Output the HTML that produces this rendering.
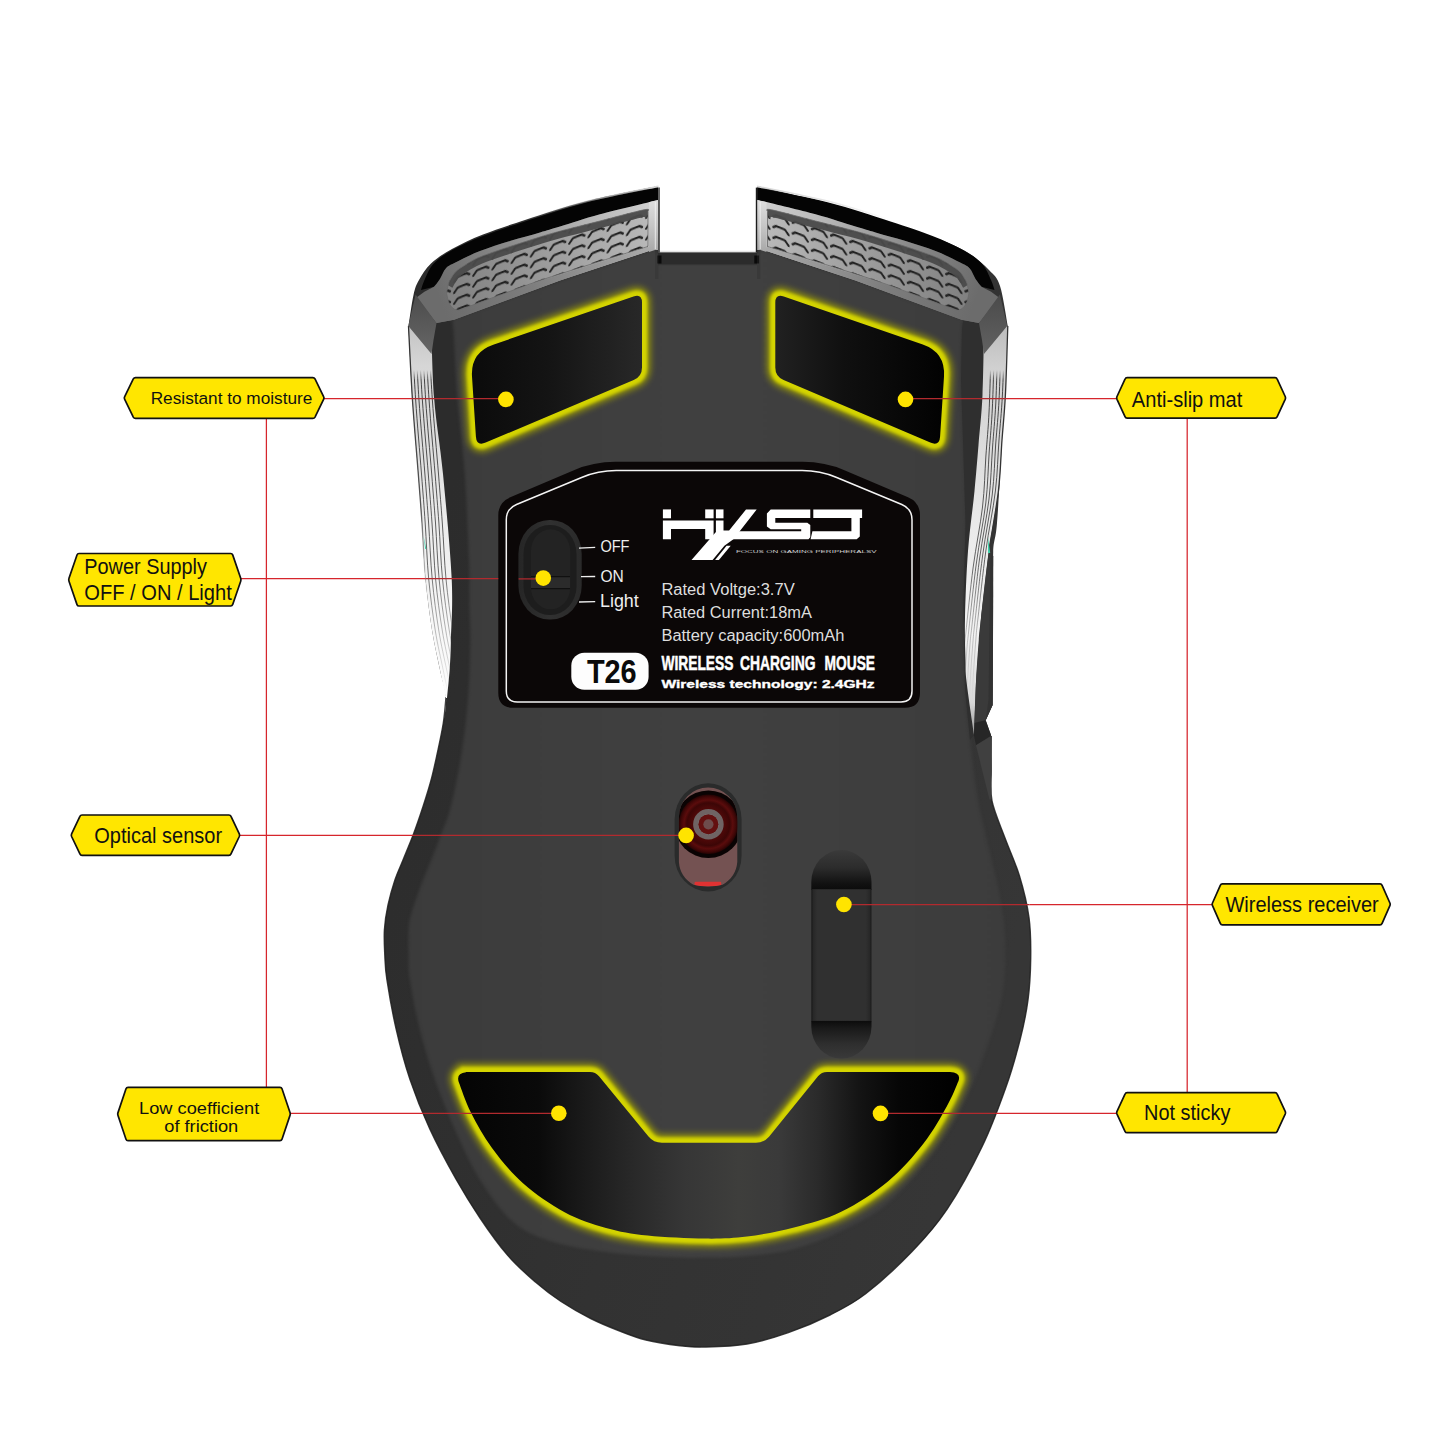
<!DOCTYPE html>
<html><head><meta charset="utf-8"><title>Mouse bottom features</title>
<style>
html,body{margin:0;padding:0;background:#fff;}
body{width:1445px;height:1445px;overflow:hidden;}
svg{display:block;}
text{font-family:"Liberation Sans",sans-serif;}
</style></head><body>
<svg width="1445" height="1445" viewBox="0 0 1445 1445">
<rect width="1445" height="1445" fill="#fff"/>
<defs>
<linearGradient id="gBody" x1="0" y1="0" x2="1" y2="0"><stop offset="0" stop-color="#3b3b3b"/><stop offset="0.5" stop-color="#404040"/><stop offset="1" stop-color="#3c3c3c"/></linearGradient>
<linearGradient id="gSil" gradientUnits="userSpaceOnUse" x1="384" y1="700" x2="1031" y2="900"><stop offset="0" stop-color="#2c2c2c"/><stop offset="0.3" stop-color="#2f2f2f"/><stop offset="0.55" stop-color="#323232"/><stop offset="0.8" stop-color="#343434"/><stop offset="1" stop-color="#363636"/></linearGradient>
<filter id="glow" x="-20%" y="-30%" width="140%" height="160%"><feGaussianBlur stdDeviation="3.2"/></filter>
<filter id="glow2" x="-20%" y="-30%" width="140%" height="160%"><feGaussianBlur stdDeviation="1.5"/></filter>
<filter id="soft" x="-5%" y="-5%" width="110%" height="110%" color-interpolation-filters="sRGB"><feGaussianBlur stdDeviation="1.4"/></filter>
<filter id="soft3" x="-20%" y="-20%" width="140%" height="140%"><feGaussianBlur stdDeviation="3"/></filter>
<linearGradient id="gRimL" gradientUnits="userSpaceOnUse" x1="440" y1="300" x2="658" y2="225"><stop offset="0" stop-color="#6c6c6c"/><stop offset="0.35" stop-color="#8a8a8a"/><stop offset="0.7" stop-color="#b4b4b4"/><stop offset="1" stop-color="#cfcfcf"/></linearGradient>
<linearGradient id="gGrL" gradientUnits="userSpaceOnUse" x1="440" y1="300" x2="658" y2="225"><stop offset="0" stop-color="#7e7e7e"/><stop offset="0.4" stop-color="#969696"/><stop offset="1" stop-color="#bcbcbc"/></linearGradient>
<linearGradient id="gLowL" gradientUnits="userSpaceOnUse" x1="440" y1="300" x2="658" y2="225"><stop offset="0" stop-color="#6c6c6c"/><stop offset="0.4" stop-color="#7e7e7e"/><stop offset="1" stop-color="#b0b0b0"/></linearGradient>
<linearGradient id="gHlL" gradientUnits="userSpaceOnUse" x1="525" y1="0" x2="658" y2="0"><stop offset="0" stop-color="#bbb" stop-opacity="0"/><stop offset="1" stop-color="#d8d8d8" stop-opacity="1"/></linearGradient>
<linearGradient id="gRimR" gradientUnits="userSpaceOnUse" x1="975.5" y1="300" x2="757.5" y2="225"><stop offset="0" stop-color="#6c6c6c"/><stop offset="0.35" stop-color="#8a8a8a"/><stop offset="0.7" stop-color="#b4b4b4"/><stop offset="1" stop-color="#cfcfcf"/></linearGradient>
<linearGradient id="gGrR" gradientUnits="userSpaceOnUse" x1="975.5" y1="300" x2="757.5" y2="225"><stop offset="0" stop-color="#7e7e7e"/><stop offset="0.4" stop-color="#969696"/><stop offset="1" stop-color="#bcbcbc"/></linearGradient>
<linearGradient id="gLowR" gradientUnits="userSpaceOnUse" x1="975.5" y1="300" x2="757.5" y2="225"><stop offset="0" stop-color="#6c6c6c"/><stop offset="0.4" stop-color="#7e7e7e"/><stop offset="1" stop-color="#b0b0b0"/></linearGradient>
<linearGradient id="gHlR" gradientUnits="userSpaceOnUse" x1="890.5" y1="0" x2="757.5" y2="0"><stop offset="0" stop-color="#bbb" stop-opacity="0"/><stop offset="1" stop-color="#d8d8d8" stop-opacity="1"/></linearGradient>
<linearGradient id="gEnd" x1="0" y1="0" x2="0" y2="1"><stop offset="0" stop-color="#dedede"/><stop offset="0.5" stop-color="#c6c6c6"/><stop offset="1" stop-color="#a8a8a8"/></linearGradient>
<linearGradient id="gFacL" x1="0" y1="0" x2="0" y2="1"><stop offset="0" stop-color="#4c4c4c"/><stop offset="1" stop-color="#666"/></linearGradient>
<linearGradient id="gFacR" x1="0" y1="0" x2="0" y2="1"><stop offset="0" stop-color="#4a4a4a"/><stop offset="1" stop-color="#626262"/></linearGradient>
<pattern id="pGrL" width="19.2" height="10.8" patternUnits="userSpaceOnUse" patternTransform="matrix(1 -0.335 0 1 452 284)"><path d="M2.2 9.6 L5.6 5.6 L14.6 4.8 L17.2 6.8" fill="none" stroke="#222" stroke-width="2.3" stroke-linecap="round" stroke-linejoin="round"/></pattern>
<pattern id="pGrR" width="19.2" height="10.8" patternUnits="userSpaceOnUse" patternTransform="matrix(1 0.335 0 1 963.5 284)"><path d="M17 9.6 L13.6 5.6 L4.6 4.8 L2 6.8" fill="none" stroke="#222" stroke-width="2.3" stroke-linecap="round" stroke-linejoin="round"/></pattern>
<linearGradient id="gStripL" gradientUnits="userSpaceOnUse" x1="0" y1="326" x2="0" y2="720"><stop offset="0" stop-color="#c4c4c4"/><stop offset="0.1" stop-color="#d6d6d6"/><stop offset="0.3" stop-color="#dedede"/><stop offset="0.5" stop-color="#ececec"/><stop offset="0.75" stop-color="#f7f7f7"/><stop offset="1" stop-color="#ffffff"/></linearGradient>
<linearGradient id="gFadeL" gradientUnits="userSpaceOnUse" x1="0" y1="370" x2="0" y2="700"><stop offset="0" stop-color="#333" stop-opacity="0"/><stop offset="0.03" stop-color="#333" stop-opacity="1"/><stop offset="0.6" stop-color="#444" stop-opacity="0.9"/><stop offset="1" stop-color="#777" stop-opacity="0"/></linearGradient>
<clipPath id="cStripL"><path d="M408.5 326 C409.1 338.2 410.8 374.3 412.4 399 C414 423.7 416.7 453.3 418.3 474 C419.9 494.7 420.8 505.5 422 523 C423.2 540.5 423.8 561.2 425.5 579 C427.2 596.8 429.6 614.8 432 630 C434.4 645.2 437.7 658.7 440 670 C442.3 681.3 445 693.3 446 698 L447 698 C447.5 693 449.2 677.4 449.8 667.7 C450.4 658 450.6 654.8 450.9 640 C451.2 625.2 453 606.7 451.7 579 C450.4 551.3 445.9 504 443 474 C440.1 444 436.1 423.7 434.2 399 C432.2 374.3 431.8 338.2 431.3 326 Z"/></clipPath>
<linearGradient id="gEdgeL" gradientUnits="userSpaceOnUse" x1="0" y1="300" x2="0" y2="600"><stop offset="0" stop-color="#2a2a2a"/><stop offset="0.7" stop-color="#555"/><stop offset="1" stop-color="#999" stop-opacity="0"/></linearGradient>
<linearGradient id="gStripR" gradientUnits="userSpaceOnUse" x1="0" y1="326" x2="0" y2="735"><stop offset="0" stop-color="#bcbcbc"/><stop offset="0.1" stop-color="#d0d0d0"/><stop offset="0.3" stop-color="#dcdcdc"/><stop offset="0.5" stop-color="#eaeaea"/><stop offset="0.75" stop-color="#f3f3f3"/><stop offset="0.92" stop-color="#d8d8d8"/><stop offset="1" stop-color="#999"/></linearGradient>
<clipPath id="cStripR"><path d="M984 326 C983.8 337.5 983.4 375.2 982.5 395 C981.6 414.8 979.8 429 978.5 445 C977.2 461 976.2 473.3 974.5 491 C972.8 508.7 969.6 529.8 968 551 C966.4 572.2 965.4 599.8 965 618 C964.6 636.2 965.2 649.3 965.5 660 C965.8 670.7 965.2 669.5 966.6 682 C968 694.5 972.8 726.2 974 735 L974 735 C974.3 726.2 975.2 697.8 976 682 C976.8 666.2 978 650.7 978.8 640 C979.6 629.3 979.3 632.8 981 618 C982.7 603.2 985.9 572.2 988.8 551 C991.7 529.8 996.2 509.5 998.4 491 C1000.6 472.5 1000.8 456 1002 440 C1003.2 424 1004.4 414 1005.4 395 C1006.4 376 1007.4 337.5 1007.8 326 Z"/></clipPath>
<linearGradient id="gPadL" x1="0" y1="0" x2="1" y2="0"><stop offset="0" stop-color="#0b0b0b"/><stop offset="0.45" stop-color="#141414"/><stop offset="1" stop-color="#282828"/></linearGradient>
<linearGradient id="gPadR" x1="0" y1="0" x2="1" y2="0"><stop offset="0" stop-color="#212121"/><stop offset="0.4" stop-color="#101010"/><stop offset="1" stop-color="#020202"/></linearGradient>
<linearGradient id="gPadB" gradientUnits="userSpaceOnUse" x1="458" y1="0" x2="959" y2="0"><stop offset="0" stop-color="#040404"/><stop offset="0.16" stop-color="#0a0a0a"/><stop offset="0.24" stop-color="#181818"/><stop offset="0.33" stop-color="#262626"/><stop offset="0.45" stop-color="#363636"/><stop offset="0.56" stop-color="#3e3e3c"/><stop offset="0.64" stop-color="#3a3a3a"/><stop offset="0.72" stop-color="#2a2a2a"/><stop offset="0.8" stop-color="#141414"/><stop offset="0.88" stop-color="#060606"/><stop offset="1" stop-color="#000"/></linearGradient>
<linearGradient id="gSw" x1="0" y1="0" x2="1" y2="0"><stop offset="0" stop-color="#262626"/><stop offset="0.5" stop-color="#303030"/><stop offset="1" stop-color="#2a2a2a"/></linearGradient>
<clipPath id="cSens"><path d="M678.9 817 A29.2 29.5 0 0 1 737.3 817 L737.3 862 Q736 877 722.5 884.8 Q716 886.6 708 886.6 Q700 886.6 693.5 884.8 Q680 877 678.9 862 Z"/></clipPath>
<radialGradient id="gLens" cx="0.5" cy="0.5" r="0.5"><stop offset="0" stop-color="#5a0a0a"/><stop offset="0.55" stop-color="#4c0808"/><stop offset="0.72" stop-color="#3c0606"/><stop offset="0.82" stop-color="#5a0c0c"/><stop offset="0.92" stop-color="#420707"/><stop offset="1" stop-color="#240303"/></radialGradient>
<linearGradient id="gSlotT" gradientUnits="userSpaceOnUse" x1="0" y1="850" x2="0" y2="889"><stop offset="0" stop-color="#3a3a3a"/><stop offset="0.45" stop-color="#2c2c2c"/><stop offset="0.85" stop-color="#121212"/><stop offset="1" stop-color="#0c0c0c"/></linearGradient>
<linearGradient id="gSlotB" gradientUnits="userSpaceOnUse" x1="0" y1="1021" x2="0" y2="1059"><stop offset="0" stop-color="#0c0c0c"/><stop offset="0.2" stop-color="#1a1a1a"/><stop offset="0.6" stop-color="#2e2e2e"/><stop offset="1" stop-color="#3a3a3a"/></linearGradient>
<linearGradient id="gRecv" x1="0" y1="0" x2="1" y2="0"><stop offset="0" stop-color="#262626"/><stop offset="0.08" stop-color="#303030"/><stop offset="0.92" stop-color="#303030"/><stop offset="1" stop-color="#262626"/></linearGradient>
<clipPath id="cSlot"><rect x="811.3" y="850" width="60.2" height="208.6" rx="30" ry="32"/></clipPath>
</defs>
<path d="M658 186 C646.2 188.5 609.2 195.3 587 201 C564.8 206.7 542.3 214.4 525 220 C507.7 225.6 495.2 229.7 483 234.5 C470.8 239.3 460.7 244.2 452 249 C443.3 253.8 436.5 258.3 431 263.5 C425.5 268.7 421.9 274.8 419 280 C416.1 285.2 415.2 287.3 413.5 295 C411.8 302.7 409.3 320.8 408.5 326 C409.1 338.2 410.8 374.3 412.4 399 C414 423.7 416.7 453.3 418.3 474 C419.9 494.7 420.8 505.5 422 523 C423.2 540.5 423.8 561.2 425.5 579 C427.2 596.8 429.6 614.8 432 630 C434.4 645.2 437.7 658.8 440 670 C442.3 681.2 445.4 688.2 446 697 C446.6 705.8 444.7 714 443.3 723 C441.9 732 439.8 741.5 437.8 750.8 C435.8 760 433.9 769.3 431.5 778.5 C429.1 787.7 426.2 796.8 423.2 806 C420.2 815.2 416.9 825 413.5 834 C410.1 843 406.1 852.3 403 860 C399.9 867.7 397.4 872.5 394.9 880 C392.4 887.5 389.8 896.7 388 905 C386.2 913.3 384.9 921.7 384.4 930 C383.9 938.3 384.4 946.7 384.8 955 C385.2 963.3 385 967.2 386.9 979.6 C388.8 992 392.4 1012.8 396.2 1029.4 C400 1046 404.3 1062.7 409.9 1079.3 C415.5 1095.9 422.1 1112.4 429.8 1129 C437.5 1145.6 447.5 1164.1 455.9 1178.9 C464.3 1193.7 471.4 1205.2 480 1218 C488.6 1230.8 498.5 1244.7 507.7 1255.4 C516.9 1266.1 526.5 1274.3 535.4 1282 C544.3 1289.7 551.8 1295.4 561 1301.5 C570.2 1307.6 581.1 1313.7 590.7 1318.5 C600.3 1323.3 609.2 1326.9 618.4 1330.5 C627.6 1334.1 635.7 1337.5 646 1340 C656.3 1342.5 670.2 1344.5 680 1345.7 C689.8 1346.9 693.8 1347.4 705 1347.1 C716.2 1346.8 733.1 1346.4 747 1344 C760.9 1341.6 774.6 1337.4 788.4 1332.6 C802.2 1327.8 817.1 1321.5 830 1315 C842.9 1308.5 852.4 1304 866 1293.5 C879.6 1283 898.3 1265.8 911.8 1251.8 C925.3 1237.8 935.2 1227 947 1209.4 C958.8 1191.8 972.6 1166.4 982.4 1146 C992.2 1125.6 999.7 1104.7 1006 1087 C1012.3 1069.3 1016.3 1054.5 1020 1040 C1023.7 1025.5 1026.2 1013.5 1028 1000 C1029.8 986.5 1030.5 972.8 1030.7 959 C1030.9 945.2 1030.9 931.3 1029 917.5 C1027.1 903.7 1023.5 889.2 1019.5 876 C1015.5 862.8 1009.6 850.5 1005 838 C1000.4 825.5 994.3 812.3 992 801 C989.7 789.7 991.3 780.8 991.2 770 C991.1 759.2 991.2 741.7 991.2 736 L985.7 720.3 L992.6 705 C992.6 702.3 992.7 705.5 992.8 689 C992.9 672.5 993.1 628.8 993.2 606 C993.3 583.2 992.6 565.8 993.2 552 C993.8 538.2 995.5 541.7 997 523 C998.5 504.3 1000.2 472.8 1002 440 C1003.8 407.2 1006.8 345 1007.8 326 C1006.5 319.3 1003.1 295.3 1000 286 C996.9 276.7 994.3 275.5 989 270 C983.7 264.5 977 258.2 968.4 253 C959.8 247.8 951.1 243.8 937.2 238.5 C923.4 233.2 904.3 227.1 885.3 221 C866.3 214.9 844.4 207.8 823 202 C801.6 196.2 768 188.7 757 186 L757 253 L658 253 Z" fill="url(#gSil)"/>
<path d="M446 697 C445.6 701.3 444.7 714 443.3 723 C441.9 732 439.8 741.5 437.8 750.8 C435.8 760 433.9 769.3 431.5 778.5 C429.1 787.7 426.2 796.8 423.2 806 C420.2 815.2 416.9 825 413.5 834 C410.1 843 406.1 852.3 403 860 C399.9 867.7 397.4 872.5 394.9 880 C392.4 887.5 389.8 896.7 388 905 C386.2 913.3 384.9 921.7 384.4 930 C383.9 938.3 384.4 946.7 384.8 955 C385.2 963.3 385 967.2 386.9 979.6 C388.8 992 392.4 1012.8 396.2 1029.4 C400 1046 404.3 1062.7 409.9 1079.3 C415.5 1095.9 422.1 1112.4 429.8 1129 C437.5 1145.6 447.5 1164.1 455.9 1178.9 C464.3 1193.7 471.4 1205.2 480 1218 C488.6 1230.8 498.5 1244.7 507.7 1255.4 C516.9 1266.1 526.5 1274.3 535.4 1282 C544.3 1289.7 551.8 1295.4 561 1301.5 C570.2 1307.6 581.1 1313.7 590.7 1318.5 C600.3 1323.3 609.2 1326.9 618.4 1330.5 C627.6 1334.1 635.7 1337.5 646 1340 C656.3 1342.5 670.2 1344.5 680 1345.7 C689.8 1346.9 693.8 1347.4 705 1347.1 C716.2 1346.8 733.1 1346.4 747 1344 C760.9 1341.6 774.6 1337.4 788.4 1332.6 C802.2 1327.8 817.1 1321.5 830 1315 C842.9 1308.5 852.4 1304 866 1293.5 C879.6 1283 898.3 1265.8 911.8 1251.8 C925.3 1237.8 935.2 1227 947 1209.4 C958.8 1191.8 972.6 1166.4 982.4 1146 C992.2 1125.6 999.7 1104.7 1006 1087 C1012.3 1069.3 1016.3 1054.5 1020 1040 C1023.7 1025.5 1026.2 1013.5 1028 1000 C1029.8 986.5 1030.5 972.8 1030.7 959 C1030.9 945.2 1030.9 931.3 1029 917.5 C1027.1 903.7 1023.5 889.2 1019.5 876 C1015.5 862.8 1009.6 850.5 1005 838 C1000.4 825.5 994.3 812.3 992 801 C989.7 789.7 991.3 780.8 991.2 770 C991.1 759.2 991.2 741.7 991.2 736" fill="none" stroke="#1f1f1f" stroke-width="1.4" opacity="0.85"/>
<path d="M452 319.5 C452.2 321.2 452.6 316.8 453.5 330 C454.4 343.2 455.6 375 457.5 399 C459.4 423 462.9 447.2 464.8 474 C466.7 500.8 468.2 538 469 560 C469.8 582 469.3 592.7 469.5 606 C469.7 619.3 470.5 625.2 470.3 640 C470.1 654.8 469.7 676.5 468.3 695 C466.9 713.5 464.9 732.5 462 751 C459.1 769.5 454.5 792.2 451 806 C447.5 819.8 444.4 825.3 441.2 834 C438 842.7 435.3 849.7 432 858 C428.7 866.3 425 874.5 421.5 884 C418 893.5 413.1 907.3 411 915 C408.9 922.7 409 923.3 408.6 930 C408.2 936.7 408.4 946.7 408.6 955 C408.8 963.3 408 967.2 409.9 979.6 C411.8 992 415.6 1012.8 419.8 1029.4 C424 1046 429 1062.7 434.8 1079.3 C440.6 1095.9 447.2 1112.4 454.7 1129 C462.2 1145.6 470.1 1163.6 479.6 1178.9 C489.2 1194.2 500.3 1210.7 512 1221 C523.7 1231.3 534.3 1235.8 550 1241 C565.7 1246.2 586.3 1249.3 606 1252 C625.7 1254.7 651.1 1256.1 668.4 1257 C685.7 1257.9 696.9 1257.7 710 1257.5 C723.1 1257.3 733 1257.4 747 1256 C761 1254.6 778.3 1253.2 794 1249 C809.7 1244.8 825.5 1238.7 841.2 1231 C856.9 1223.3 872.5 1216.4 888.2 1203 C903.9 1189.6 922.3 1168 935.3 1150.6 C948.3 1133.2 957 1117.2 966 1098.8 C975 1080.4 983.2 1058.1 989.4 1040 C995.6 1021.9 1000.4 1007 1003 990 C1005.6 973 1005.5 953.5 1005 938 C1004.5 922.5 1002.4 910.8 1000 897 C997.6 883.2 994.2 871.2 990.5 855 C986.8 838.8 981.4 819.2 978 800 C974.6 780.8 972.2 758.5 970 740 C967.8 721.5 966.1 711.3 965 689 C963.9 666.7 963.4 633.7 963.5 606 C963.6 578.3 965.6 550.7 965.5 523 C965.4 495.3 963.8 463.8 963 440 C962.2 416.2 961.2 398.3 961 380 C960.8 361.7 961.6 340.1 962 330 C962.4 319.9 963.2 321.2 963.5 319.5 L855.5 280.5 L760.5 249 L757 253 L658 253 L655 249 L560 280.5 Z" fill="url(#gBody)" filter="url(#soft)"/>
<path d="M984.5 322 L983 395 L979 445 L975 491 L968.5 551 L965.5 618 L966 660 L967 682 L974 735 L970 740 L965 689 L963.5 606 L965.5 523 L963 440 L961 380 L962 330 L963.5 318 Z" fill="#2f2f2f"/>
<rect x="658" y="252.5" width="99" height="12" fill="#2b2b2b"/>
<rect x="658" y="264" width="99" height="1.2" fill="#343434"/>
<rect x="657.3" y="255.5" width="4.2" height="8" fill="#0a0a0a"/>
<rect x="754.3" y="255.5" width="4.8" height="8" fill="#0a0a0a"/>
<rect x="655" y="249" width="3.5" height="30" fill="#2f2f2f" opacity="0.35"/>
<rect x="757" y="249" width="3.5" height="30" fill="#2f2f2f" opacity="0.35"/>
<path d="M658 187.6 C646.2 190.1 609.2 196.8 587 202.5 C564.8 208.2 542.3 215.9 525 221.5 C507.7 227.1 495.2 231.2 483 236 C470.8 240.8 460.2 245.6 452 250.2 C443.8 254.8 438.1 258.8 433.5 263.8 C428.9 268.8 426.6 275.6 424.5 280 C422.4 284.4 421.6 288.3 421 290 L434 286.8 C435 285.5 438 282 440 278.9 C442 275.8 443.4 270.9 446 268.2 C448.6 265.5 449.7 265.4 455.4 262.5 C461.1 259.6 470.8 254.7 480 251.1 C489.2 247.5 500.7 243.9 510.7 240.8 C520.7 237.7 531.8 234.8 540 232.4 C548.2 230 550 229.5 560 226.5 C570 223.5 583.7 218.7 600 214.3 C616.3 209.9 648.3 202.4 658 200 Z" fill="#040404"/>
<path d="M658.5 186.4 C652.1 187.7 631.9 191.5 620 194 C608.1 196.5 598.7 198.3 587 201.3 C575.3 204.3 560.3 208.8 550 212 C539.7 215.2 529.2 218.8 525 220.2" fill="none" stroke="url(#gHlL)" stroke-width="1.6"/>
<path d="M434 286.8 C435 285.5 438 282 440 278.9 C442 275.8 443.4 270.9 446 268.2 C448.6 265.5 449.7 265.4 455.4 262.5 C461.1 259.6 470.8 254.7 480 251.1 C489.2 247.5 500.7 243.9 510.7 240.8 C520.7 237.7 531.8 234.8 540 232.4 C548.2 230 550 229.5 560 226.5 C570 223.5 583.7 218.7 600 214.3 C616.3 209.9 648.3 202.4 658 200 L658.5 200 L658.5 250 L655 249 L560 280.5 L454 319.7 L436.5 323 L416.6 297.4 L424.4 291.8 Z" fill="url(#gRimL)"/>
<path d="M454 319.7 L436.5 323 L425 308 L447 301 L457 310.5 L540 281 L648 247 L655 249 L560 280.5 Z" fill="url(#gLowL)"/>
<path d="M649 202.3 L658.5 200 L658.5 250 L655 250 L649 252 Z" fill="url(#gEnd)"/>
<path d="M655.3 202 L655.3 249" stroke="#f4f4f4" stroke-width="1" fill="none" opacity="0.8"/>
<path d="M659 187.6 L659 252.5" stroke="#1c1c1c" stroke-width="1.4" fill="none"/>
<clipPath id="cGrL"><path d="M448.5 283 C449.6 281.2 452.1 275.5 455 272.4 C457.9 269.3 461.8 267.1 466 264.5 C470.2 261.9 472.7 260 480 257 C487.3 254 500 249.8 510 246.5 C520 243.2 531.7 239.6 540 237 C548.3 234.4 550 233.9 560 231.2 C570 228.5 586 224.6 600 221 C614 217.4 636 211.4 644 209.8 C652 208.2 647.3 211.2 648 211.5 L648 246.5 C638.3 249.5 608 258.8 590 264.5 C572 270.2 555 275.4 540 280.5 C525 285.6 511.7 290.8 500 295 C488.3 299.2 477.2 303.5 470 306 C462.8 308.5 460.4 310.3 457 310 C453.6 309.7 451.2 306.8 449.5 304 C447.8 301.2 447 294.8 446.5 293 Z"/></clipPath>
<path d="M448.5 283 C449.6 281.2 452.1 275.5 455 272.4 C457.9 269.3 461.8 267.1 466 264.5 C470.2 261.9 472.7 260 480 257 C487.3 254 500 249.8 510 246.5 C520 243.2 531.7 239.6 540 237 C548.3 234.4 550 233.9 560 231.2 C570 228.5 586 224.6 600 221 C614 217.4 636 211.4 644 209.8 C652 208.2 647.3 211.2 648 211.5 L648 246.5 C638.3 249.5 608 258.8 590 264.5 C572 270.2 555 275.4 540 280.5 C525 285.6 511.7 290.8 500 295 C488.3 299.2 477.2 303.5 470 306 C462.8 308.5 460.4 310.3 457 310 C453.6 309.7 451.2 306.8 449.5 304 C447.8 301.2 447 294.8 446.5 293 Z" fill="url(#gGrL)"/>
<path d="M448.5 283 C449.6 281.2 452.1 275.5 455 272.4 C457.9 269.3 461.8 267.1 466 264.5 C470.2 261.9 472.7 260 480 257 C487.3 254 500 249.8 510 246.5 C520 243.2 531.7 239.6 540 237 C548.3 234.4 550 233.9 560 231.2 C570 228.5 586 224.6 600 221 C614 217.4 636 211.4 644 209.8 C652 208.2 647.3 211.2 648 211.5 L648 246.5 C638.3 249.5 608 258.8 590 264.5 C572 270.2 555 275.4 540 280.5 C525 285.6 511.7 290.8 500 295 C488.3 299.2 477.2 303.5 470 306 C462.8 308.5 460.4 310.3 457 310 C453.6 309.7 451.2 306.8 449.5 304 C447.8 301.2 447 294.8 446.5 293 Z" fill="url(#pGrL)"/>
<g clip-path="url(#cGrL)"><path d="M448.5 285.5 C449.6 283.7 452.1 278 455 274.9 C457.9 271.8 461.8 269.6 466 267 C470.2 264.4 472.7 262.5 480 259.5 C487.3 256.5 500 252.3 510 249 C520 245.7 531.7 242.1 540 239.5 C548.3 236.9 550 236.4 560 233.7 C570 231 586 227.1 600 223.5 C614 219.9 636 213.9 644 212.3 C652 210.7 647.3 213.7 648 214" fill="none" stroke="#4a4a4a" stroke-width="9" opacity="0.95"/></g>
<path d="M448.5 283 C449.6 281.2 452.1 275.5 455 272.4 C457.9 269.3 461.8 267.1 466 264.5 C470.2 261.9 472.7 260 480 257 C487.3 254 500 249.8 510 246.5 C520 243.2 531.7 239.6 540 237 C548.3 234.4 550 233.9 560 231.2 C570 228.5 586 224.6 600 221 C614 217.4 636 211.4 644 209.8 C652 208.2 647.3 211.2 648 211.5 L648 246.5 C638.3 249.5 608 258.8 590 264.5 C572 270.2 555 275.4 540 280.5 C525 285.6 511.7 290.8 500 295 C488.3 299.2 477.2 303.5 470 306 C462.8 308.5 460.4 310.3 457 310 C453.6 309.7 451.2 306.8 449.5 304 C447.8 301.2 447 294.8 446.5 293 Z" fill="none" stroke="#6a6a6a" stroke-width="0.8"/>
<path d="M757.5 187.6 C769.3 190.1 806.3 196.8 828.5 202.5 C850.7 208.2 873.2 215.9 890.5 221.5 C907.8 227.1 920.3 231.2 932.5 236 C944.7 240.8 955.2 245.6 963.5 250.2 C971.8 254.8 977.4 258.8 982 263.8 C986.6 268.8 988.9 275.6 991 280 C993.1 284.4 993.9 288.3 994.5 290 L981.5 286.8 C980.5 285.5 977.5 282 975.5 278.9 C973.5 275.8 972.1 270.9 969.5 268.2 C966.9 265.5 965.8 265.4 960.1 262.5 C954.4 259.6 944.7 254.7 935.5 251.1 C926.3 247.5 914.8 243.9 904.8 240.8 C894.8 237.7 883.7 234.8 875.5 232.4 C867.3 230 865.5 229.5 855.5 226.5 C845.5 223.5 831.8 218.7 815.5 214.3 C799.2 209.9 767.2 202.4 757.5 200 Z" fill="#040404"/>
<path d="M757 186.4 C763.4 187.7 783.6 191.5 795.5 194 C807.4 196.5 816.8 198.3 828.5 201.3 C840.2 204.3 855.2 208.8 865.5 212 C875.8 215.2 886.3 218.8 890.5 220.2" fill="none" stroke="url(#gHlR)" stroke-width="1.6"/>
<path d="M981.5 286.8 C980.5 285.5 977.5 282 975.5 278.9 C973.5 275.8 972.1 270.9 969.5 268.2 C966.9 265.5 965.8 265.4 960.1 262.5 C954.4 259.6 944.7 254.7 935.5 251.1 C926.3 247.5 914.8 243.9 904.8 240.8 C894.8 237.7 883.7 234.8 875.5 232.4 C867.3 230 865.5 229.5 855.5 226.5 C845.5 223.5 831.8 218.7 815.5 214.3 C799.2 209.9 767.2 202.4 757.5 200 L757 200 L757 250 L760.5 249 L855.5 280.5 L961.5 319.7 L979 323 L998.9 297.4 L991.1 291.8 Z" fill="url(#gRimR)"/>
<path d="M961.5 319.7 L979 323 L990.5 308 L968.5 301 L958.5 310.5 L875.5 281 L767.5 247 L760.5 249 L855.5 280.5 Z" fill="url(#gLowR)"/>
<path d="M766.5 202.3 L757 200 L757 250 L760.5 250 L766.5 252 Z" fill="url(#gEnd)"/>
<path d="M760.2 202 L760.2 249" stroke="#f4f4f4" stroke-width="1" fill="none" opacity="0.8"/>
<path d="M756.5 187.6 L756.5 252.5" stroke="#1c1c1c" stroke-width="1.4" fill="none"/>
<clipPath id="cGrR"><path d="M967 283 C965.9 281.2 963.4 275.5 960.5 272.4 C957.6 269.3 953.7 267.1 949.5 264.5 C945.3 261.9 942.8 260 935.5 257 C928.2 254 915.5 249.8 905.5 246.5 C895.5 243.2 883.8 239.6 875.5 237 C867.2 234.4 865.5 233.9 855.5 231.2 C845.5 228.5 829.5 224.6 815.5 221 C801.5 217.4 779.5 211.4 771.5 209.8 C763.5 208.2 768.2 211.2 767.5 211.5 L767.5 246.5 C777.2 249.5 807.5 258.8 825.5 264.5 C843.5 270.2 860.5 275.4 875.5 280.5 C890.5 285.6 903.8 290.8 915.5 295 C927.2 299.2 938.3 303.5 945.5 306 C952.7 308.5 955.1 310.3 958.5 310 C961.9 309.7 964.2 306.8 966 304 C967.8 301.2 968.5 294.8 969 293 Z"/></clipPath>
<path d="M967 283 C965.9 281.2 963.4 275.5 960.5 272.4 C957.6 269.3 953.7 267.1 949.5 264.5 C945.3 261.9 942.8 260 935.5 257 C928.2 254 915.5 249.8 905.5 246.5 C895.5 243.2 883.8 239.6 875.5 237 C867.2 234.4 865.5 233.9 855.5 231.2 C845.5 228.5 829.5 224.6 815.5 221 C801.5 217.4 779.5 211.4 771.5 209.8 C763.5 208.2 768.2 211.2 767.5 211.5 L767.5 246.5 C777.2 249.5 807.5 258.8 825.5 264.5 C843.5 270.2 860.5 275.4 875.5 280.5 C890.5 285.6 903.8 290.8 915.5 295 C927.2 299.2 938.3 303.5 945.5 306 C952.7 308.5 955.1 310.3 958.5 310 C961.9 309.7 964.2 306.8 966 304 C967.8 301.2 968.5 294.8 969 293 Z" fill="url(#gGrR)"/>
<path d="M967 283 C965.9 281.2 963.4 275.5 960.5 272.4 C957.6 269.3 953.7 267.1 949.5 264.5 C945.3 261.9 942.8 260 935.5 257 C928.2 254 915.5 249.8 905.5 246.5 C895.5 243.2 883.8 239.6 875.5 237 C867.2 234.4 865.5 233.9 855.5 231.2 C845.5 228.5 829.5 224.6 815.5 221 C801.5 217.4 779.5 211.4 771.5 209.8 C763.5 208.2 768.2 211.2 767.5 211.5 L767.5 246.5 C777.2 249.5 807.5 258.8 825.5 264.5 C843.5 270.2 860.5 275.4 875.5 280.5 C890.5 285.6 903.8 290.8 915.5 295 C927.2 299.2 938.3 303.5 945.5 306 C952.7 308.5 955.1 310.3 958.5 310 C961.9 309.7 964.2 306.8 966 304 C967.8 301.2 968.5 294.8 969 293 Z" fill="url(#pGrR)"/>
<g clip-path="url(#cGrR)"><path d="M967 285.5 C965.9 283.7 963.4 278 960.5 274.9 C957.6 271.8 953.7 269.6 949.5 267 C945.3 264.4 942.8 262.5 935.5 259.5 C928.2 256.5 915.5 252.3 905.5 249 C895.5 245.7 883.8 242.1 875.5 239.5 C867.2 236.9 865.5 236.4 855.5 233.7 C845.5 231 829.5 227.1 815.5 223.5 C801.5 219.9 779.5 213.9 771.5 212.3 C763.5 210.7 768.2 213.7 767.5 214" fill="none" stroke="#4a4a4a" stroke-width="9" opacity="0.95"/></g>
<path d="M967 283 C965.9 281.2 963.4 275.5 960.5 272.4 C957.6 269.3 953.7 267.1 949.5 264.5 C945.3 261.9 942.8 260 935.5 257 C928.2 254 915.5 249.8 905.5 246.5 C895.5 243.2 883.8 239.6 875.5 237 C867.2 234.4 865.5 233.9 855.5 231.2 C845.5 228.5 829.5 224.6 815.5 221 C801.5 217.4 779.5 211.4 771.5 209.8 C763.5 208.2 768.2 211.2 767.5 211.5 L767.5 246.5 C777.2 249.5 807.5 258.8 825.5 264.5 C843.5 270.2 860.5 275.4 875.5 280.5 C890.5 285.6 903.8 290.8 915.5 295 C927.2 299.2 938.3 303.5 945.5 306 C952.7 308.5 955.1 310.3 958.5 310 C961.9 309.7 964.2 306.8 966 304 C967.8 301.2 968.5 294.8 969 293 Z" fill="none" stroke="#6a6a6a" stroke-width="0.8"/>
<path d="M408.5 326 C409.1 338.2 410.8 374.3 412.4 399 C414 423.7 416.7 453.3 418.3 474 C419.9 494.7 420.8 505.5 422 523 C423.2 540.5 423.8 561.2 425.5 579 C427.2 596.8 429.6 614.8 432 630 C434.4 645.2 437.7 658.7 440 670 C442.3 681.3 445 693.3 446 698 L447 698 C447.5 693 449.2 677.4 449.8 667.7 C450.4 658 450.6 654.8 450.9 640 C451.2 625.2 453 606.7 451.7 579 C450.4 551.3 445.9 504 443 474 C440.1 444 436.1 423.7 434.2 399 C432.2 374.3 431.8 338.2 431.3 326 Z" fill="url(#gStripL)"/>
<g clip-path="url(#cStripL)" fill="none" stroke="url(#gFadeL)" stroke-width="0.9">
<path d="M411.7 326 C412.3 338.2 414 374.3 415.6 399 C417.2 423.7 419.9 453.3 421.5 474 C423.1 494.7 424 505.5 425.2 523 C426.4 540.5 427 561.2 428.7 579 C430.4 596.8 432.8 614.8 435.2 630 C437.6 645.2 440.9 658.7 443.2 670 C445.5 681.3 448.2 693.3 449.2 698"/>
<path d="M415 326 C415.7 338.2 417.3 374.3 418.9 399 C420.6 423.7 423.3 453.3 424.9 474 C426.5 494.7 427.4 505.5 428.6 523 C429.8 540.5 430.5 561.2 432.2 579 C433.8 596.8 436.3 614.8 438.7 630 C441.1 645.2 444.4 658.7 446.7 670 C449.1 681.3 451.7 693.3 452.7 698"/>
<path d="M418.3 326 C419 338.2 420.6 374.3 422.3 399 C424 423.7 426.7 453.3 428.3 474 C429.9 494.7 430.8 505.5 432 523 C433.3 540.5 433.9 561.2 435.6 579 C437.3 596.8 439.7 614.8 442.2 630 C444.6 645.2 447.9 658.7 450.2 670 C452.6 681.3 455.3 693.3 456.3 698"/>
<path d="M421.6 326 C422.3 338.2 424 374.3 425.6 399 C427.3 423.7 430 453.3 431.7 474 C433.3 494.7 434.2 505.5 435.5 523 C436.7 540.5 437.4 561.2 439.1 579 C440.8 596.8 443.2 614.8 445.7 630 C448.1 645.2 451.4 658.7 453.7 670 C456.1 681.3 458.8 693.3 459.8 698"/>
<path d="M424.9 326 C425.6 338.2 427.3 374.3 429 399 C430.7 423.7 433.4 453.3 435.1 474 C436.7 494.7 437.6 505.5 438.9 523 C440.1 540.5 440.8 561.2 442.5 579 C444.2 596.8 446.7 614.8 449.2 630 C451.6 645.2 454.9 658.7 457.3 670 C459.6 681.3 462.3 693.3 463.3 698"/>
<path d="M428.2 326 C428.9 338.2 430.6 374.3 432.3 399 C434 423.7 436.8 453.3 438.5 474 C440.1 494.7 441.1 505.5 442.3 523 C443.6 540.5 444.3 561.2 446 579 C447.7 596.8 450.2 614.8 452.6 630 C455.1 645.2 458.4 658.7 460.8 670 C463.1 681.3 465.8 693.3 466.9 698"/>
</g>
<path d="M408.5 326 C409.1 338.2 410.8 374.3 412.4 399 C414 423.7 416.7 453.3 418.3 474 C419.9 494.7 420.8 505.5 422 523 C423.2 540.5 423.8 561.2 425.5 579 C427.2 596.8 430.9 621.5 432 630" fill="none" stroke="url(#gEdgeL)" stroke-width="1.3"/>
<path d="M423.5 536 L425.2 549 L426.3 549 Z" fill="#3fcfa8"/>
<path d="M984 326 C983.8 337.5 983.4 375.2 982.5 395 C981.6 414.8 979.8 429 978.5 445 C977.2 461 976.2 473.3 974.5 491 C972.8 508.7 969.6 529.8 968 551 C966.4 572.2 965.4 599.8 965 618 C964.6 636.2 965.2 649.3 965.5 660 C965.8 670.7 965.2 669.5 966.6 682 C968 694.5 972.8 726.2 974 735 L974 735 C974.3 726.2 975.2 697.8 976 682 C976.8 666.2 978 650.7 978.8 640 C979.6 629.3 979.3 632.8 981 618 C982.7 603.2 985.9 572.2 988.8 551 C991.7 529.8 996.2 509.5 998.4 491 C1000.6 472.5 1000.8 456 1002 440 C1003.2 424 1004.4 414 1005.4 395 C1006.4 376 1007.4 337.5 1007.8 326 Z" fill="url(#gStripR)"/>
<g clip-path="url(#cStripR)" fill="none" stroke="url(#gFadeL)" stroke-width="0.9">
<path d="M1004.8 326 C1004.4 337.5 1003.4 376 1002.4 395 C1001.4 414 1000.2 424 999 440 C997.8 456 997.6 472.5 995.4 491 C993.2 509.5 988.7 529.8 985.8 551 C982.9 572.2 979.7 603.2 978 618 C976.3 632.8 976.6 629.3 975.8 640 C975 650.7 973.8 666.2 973 682 C972.2 697.8 971.3 726.2 971 735"/>
<path d="M1001.4 330 C1001 341.5 1000 380 999.1 399 C998.1 418 996.9 428 995.7 444 C994.6 460 994.4 476.5 992.2 495 C990 513.5 985.5 533.8 982.7 555 C979.8 576.2 976.6 607.2 974.9 622 C973.3 636.8 973.6 633.3 972.8 644 C971.9 654.7 970.8 670.2 970 686 C969.2 701.8 968.4 730.2 968.1 739"/>
<path d="M998 334 C997.6 345.5 996.7 384 995.8 403 C994.8 422 993.6 432 992.5 448 C991.3 464 991.1 480.5 989 499 C986.8 517.5 982.4 537.8 979.5 559 C976.7 580.2 973.5 611.2 971.9 626 C970.2 640.8 970.5 637.3 969.7 648 C968.9 658.7 967.8 674.2 967 690 C966.2 705.8 965.4 734.2 965.1 743"/>
<path d="M994.6 338 C994.2 349.5 993.3 388 992.4 407 C991.5 426 990.3 436 989.2 452 C988.1 468 987.9 484.5 985.8 503 C983.6 521.5 979.2 541.8 976.4 563 C973.5 584.2 970.4 615.2 968.8 630 C967.2 644.8 967.5 641.3 966.7 652 C965.9 662.7 964.7 678.2 964 694 C963.3 709.8 962.5 738.2 962.2 747"/>
<path d="M991.2 342 C990.9 353.5 990 392 989.1 411 C988.2 430 987 440 985.9 456 C984.8 472 984.7 488.5 982.5 507 C980.4 525.5 976 545.8 973.2 567 C970.4 588.2 967.3 619.2 965.7 634 C964.1 648.8 964.4 645.3 963.6 656 C962.8 666.7 961.7 682.2 961 698 C960.3 713.8 959.5 742.2 959.2 751"/>
</g>
<path d="M1007.8 326 C1007.4 337.5 1006.4 376 1005.4 395 C1004.4 414 1003.2 424 1002 440 C1000.8 456 1000.6 472.5 998.4 491 C996.2 509.5 990.4 541 988.8 551" fill="none" stroke="#333" stroke-width="1.3"/>
<path d="M988.8 551 L993.2 556 L992.6 705 L985.7 720.3 L974.5 723 L976 682 L981 618 Z" fill="#3a3a3a"/>
<path d="M990.5 553 L993.2 556 L992.6 705 L985.7 720.3 L988.5 700 Z" fill="#323232"/>
<path d="M985.7 720.3 L991.2 735.6 L976 745.3 L974 735.6 L974.5 723 Z" fill="#262626"/>
<path d="M976 745.3 L991.2 736 L991.4 799.5 L989.5 799.5 Z" fill="#404040"/>
<path d="M988 537 L990.2 553 L988 553 Z" fill="#3fcfa8"/>
<path d="M415.6 294.6 L436.5 323 L433.5 340 L431.5 354 L408.3 326 Z" fill="url(#gFacL)"/>
<path d="M999.9 294.6 L979 323 L982 340 L984 354 L1007.2 326 Z" fill="url(#gFacR)"/>
<path d="M472 376.5 Q470.5 352.5 493.2 344.7 L633.5 296.4 Q642 293.5 642 302.5 L642 367.5 Q642 376.5 633.7 380 L485.7 442.6 Q476.5 446.5 475.9 436.5 Z" fill="none" stroke="#a6a600" stroke-width="17" filter="url(#glow)" opacity="0.8"/>
<path d="M472 376.5 Q470.5 352.5 493.2 344.7 L633.5 296.4 Q642 293.5 642 302.5 L642 367.5 Q642 376.5 633.7 380 L485.7 442.6 Q476.5 446.5 475.9 436.5 Z" fill="none" stroke="#d4d400" stroke-width="10.5" filter="url(#glow2)"/>
<path d="M472 376.5 Q470.5 352.5 493.2 344.7 L633.5 296.4 Q642 293.5 642 302.5 L642 367.5 Q642 376.5 633.7 380 L485.7 442.6 Q476.5 446.5 475.9 436.5 Z" fill="url(#gPadL)"/>
<path d="M775.3 302.5 Q775.3 293.5 783.8 296.4 L922.8 344.6 Q945.5 352.5 944 376.5 L940.1 436.5 Q939.5 446.5 930.3 442.6 L783.6 380 Q775.3 376.5 775.3 367.5 Z" fill="none" stroke="#a6a600" stroke-width="17" filter="url(#glow)" opacity="0.8"/>
<path d="M775.3 302.5 Q775.3 293.5 783.8 296.4 L922.8 344.6 Q945.5 352.5 944 376.5 L940.1 436.5 Q939.5 446.5 930.3 442.6 L783.6 380 Q775.3 376.5 775.3 367.5 Z" fill="none" stroke="#d4d400" stroke-width="10.5" filter="url(#glow2)"/>
<path d="M775.3 302.5 Q775.3 293.5 783.8 296.4 L922.8 344.6 Q945.5 352.5 944 376.5 L940.1 436.5 Q939.5 446.5 930.3 442.6 L783.6 380 Q775.3 376.5 775.3 367.5 Z" fill="url(#gPadR)"/>
<path d="M466 1072 L590 1072 Q595.5 1072 599 1076.3 L648.5 1136.5 Q653.5 1142.7 662 1142.7 L756 1142.7 Q764 1142.7 769 1136.8 L818 1076.3 Q821.5 1072 827 1072 L950 1072 Q961.5 1072.5 958.5 1081 C956.6 1085.2 952.8 1095.6 947 1106 C941.2 1116.4 933.3 1131 923.5 1143.5 C913.7 1156 901.9 1169.8 888.2 1181.2 C874.5 1192.6 856.9 1204.1 841.2 1211.8 C825.5 1219.5 809.7 1223.4 794 1227.5 C778.3 1231.6 761.8 1234.7 747 1236.5 C732.2 1238.3 721.6 1238.8 705 1238.6 C688.4 1238.4 664.1 1237.4 647.6 1235.6 C631.1 1233.8 619.8 1231.9 606 1228 C592.2 1224.1 578.4 1219.8 564.6 1212.3 C550.8 1204.8 535.1 1194 523 1183.3 C510.9 1172.6 500.7 1159.8 492 1148 C483.3 1136.2 476.6 1123.7 471 1112.7 C465.4 1101.7 460.8 1087.1 458.7 1082 Q456 1073 466 1072.2 Z" fill="none" stroke="#a6a600" stroke-width="17" filter="url(#glow)" opacity="0.8"/>
<path d="M466 1072 L590 1072 Q595.5 1072 599 1076.3 L648.5 1136.5 Q653.5 1142.7 662 1142.7 L756 1142.7 Q764 1142.7 769 1136.8 L818 1076.3 Q821.5 1072 827 1072 L950 1072 Q961.5 1072.5 958.5 1081 C956.6 1085.2 952.8 1095.6 947 1106 C941.2 1116.4 933.3 1131 923.5 1143.5 C913.7 1156 901.9 1169.8 888.2 1181.2 C874.5 1192.6 856.9 1204.1 841.2 1211.8 C825.5 1219.5 809.7 1223.4 794 1227.5 C778.3 1231.6 761.8 1234.7 747 1236.5 C732.2 1238.3 721.6 1238.8 705 1238.6 C688.4 1238.4 664.1 1237.4 647.6 1235.6 C631.1 1233.8 619.8 1231.9 606 1228 C592.2 1224.1 578.4 1219.8 564.6 1212.3 C550.8 1204.8 535.1 1194 523 1183.3 C510.9 1172.6 500.7 1159.8 492 1148 C483.3 1136.2 476.6 1123.7 471 1112.7 C465.4 1101.7 460.8 1087.1 458.7 1082 Q456 1073 466 1072.2 Z" fill="none" stroke="#d4d400" stroke-width="10.5" filter="url(#glow2)"/>
<path d="M466 1072 L590 1072 Q595.5 1072 599 1076.3 L648.5 1136.5 Q653.5 1142.7 662 1142.7 L756 1142.7 Q764 1142.7 769 1136.8 L818 1076.3 Q821.5 1072 827 1072 L950 1072 Q961.5 1072.5 958.5 1081 C956.6 1085.2 952.8 1095.6 947 1106 C941.2 1116.4 933.3 1131 923.5 1143.5 C913.7 1156 901.9 1169.8 888.2 1181.2 C874.5 1192.6 856.9 1204.1 841.2 1211.8 C825.5 1219.5 809.7 1223.4 794 1227.5 C778.3 1231.6 761.8 1234.7 747 1236.5 C732.2 1238.3 721.6 1238.8 705 1238.6 C688.4 1238.4 664.1 1237.4 647.6 1235.6 C631.1 1233.8 619.8 1231.9 606 1228 C592.2 1224.1 578.4 1219.8 564.6 1212.3 C550.8 1204.8 535.1 1194 523 1183.3 C510.9 1172.6 500.7 1159.8 492 1148 C483.3 1136.2 476.6 1123.7 471 1112.7 C465.4 1101.7 460.8 1087.1 458.7 1082 Q456 1073 466 1072.2 Z" fill="url(#gPadB)"/>
<path d="M513.3 707.8 Q498.3 707.8 498.3 692.8 L498.3 515.4 Q498.3 502.4 510.3 497.3 L573.3 470.4 Q593.5 461.8 615.5 461.8 L802.8 461.8 Q824.8 461.8 845 470.4 L908 497.3 Q920 502.4 920 515.4 L920 692.8 Q920 707.8 905 707.8 Z" fill="#0b0707"/>
<path d="M517.3 702 Q506.3 702 506.3 691 L506.3 519.7 Q506.3 508.7 516.5 504.5 L581.6 477.5 Q598.2 470.6 616.2 470.6 L802.1 470.6 Q820.1 470.6 836.7 477.5 L901.8 504.5 Q912 508.7 912 519.7 L912 691 Q912 702 901 702 Z" fill="none" stroke="#f4f4f4" stroke-width="1.5"/>
<rect x="518.4" y="519.9" width="63.3" height="99.7" rx="31" ry="34" fill="url(#gSw)"/>
<rect x="523.5" y="525" width="53" height="90" rx="26" ry="29" fill="#1d1d1d"/>
<rect x="530.9" y="529.3" width="39.4" height="80" rx="19.5" ry="22" fill="#232323"/>
<rect x="531" y="576.4" width="39" height="12.5" fill="#2b2b2b"/>
<path d="M531 576.6 H570 M531 588.6 H570" stroke="#101010" stroke-width="1.2"/>
<path d="M579 548.2 L595.2 547.4 M581 576.7 L595.2 576.5 M579 602 L595.2 601.6" stroke="#eee" stroke-width="1.3"/>
<text x="600.4" y="552.1" font-size="15.6" fill="#eee" font-weight="normal" text-anchor="start" textLength="29.1" lengthAdjust="spacingAndGlyphs" >OFF</text>
<text x="600.4" y="581.6" font-size="15.6" fill="#eee" font-weight="normal" text-anchor="start" textLength="23.3" lengthAdjust="spacingAndGlyphs" >ON</text>
<text x="600" y="606.7" font-size="17.8" fill="#eee" font-weight="normal" text-anchor="start" textLength="38.8" lengthAdjust="spacingAndGlyphs" >Light</text>
<text x="661.4" y="594.7" font-size="17.3" fill="#dedede" font-weight="normal" text-anchor="start" textLength="133.3" lengthAdjust="spacingAndGlyphs" >Rated Voltge:3.7V</text>
<text x="661.4" y="617.9" font-size="17.3" fill="#dedede" font-weight="normal" text-anchor="start" textLength="150.5" lengthAdjust="spacingAndGlyphs" >Rated Current:18mA</text>
<text x="661.4" y="641.4" font-size="17.3" fill="#dedede" font-weight="normal" text-anchor="start" textLength="183.1" lengthAdjust="spacingAndGlyphs" >Battery capacity:600mAh</text>
<rect x="571.3" y="652.8" width="77.3" height="37" rx="13" ry="13" fill="#fdfdfd"/>
<text x="586.9" y="682.8" font-size="33.3" fill="#0a0a0a" font-weight="bold" text-anchor="start" textLength="49.8" lengthAdjust="spacingAndGlyphs" >T26</text>
<text x="661.4" y="670" font-size="19.4" fill="#fff" font-weight="bold" text-anchor="start" textLength="72" lengthAdjust="spacingAndGlyphs" stroke="#fff" stroke-width="0.5">WIRELESS</text>
<text x="740" y="670" font-size="19.4" fill="#fff" font-weight="bold" text-anchor="start" textLength="75.5" lengthAdjust="spacingAndGlyphs" stroke="#fff" stroke-width="0.5">CHARGING</text>
<text x="824.5" y="670" font-size="19.4" fill="#fff" font-weight="bold" text-anchor="start" textLength="50.5" lengthAdjust="spacingAndGlyphs" stroke="#fff" stroke-width="0.5">MOUSE</text>
<text x="661.4" y="688.1" font-size="11.5" fill="#fff" font-weight="bold" text-anchor="start" textLength="213.2" lengthAdjust="spacingAndGlyphs" stroke="#fff" stroke-width="0.35">Wireless technology: 2.4GHz</text>
<path d="M662.9 509.4 L671 509.4 L671 518.3 L662.9 518.3 Z" fill="#fff"/>
<path d="M662.9 520.6 L713.6 520.6 L713.6 539.3 L705.2 539.3 L705.2 528.9 L671 528.9 L671 539.3 L662.9 539.3 Z" fill="#fff"/>
<path d="M705.2 509.4 L713.6 509.4 L713.6 518.3 L705.2 518.3 Z" fill="#fff"/>
<path d="M715.9 509.4 L723.5 509.4 L723.5 518.3 L715.9 518.3 Z" fill="#fff"/>
<path d="M715.9 520.6 L723.5 520.6 L723.5 530.5 L729.1 530.5 L746 509.4 L756.7 509.4 L739.7 531.2 L733.4 539.3 L729.6 541.9 L724.4 545.7 L712.6 560.1 L691.5 560.1 L715.9 532 Z" fill="#fff"/>
<path d="M726.6 545.7 L730.7 545.7 L718.9 560.1 L715.1 560.1 Z" fill="#fff"/>
<path d="M770.7 509.4 L810.3 509.4 L810.3 518 L775.3 518 L775.3 522.8 L807.3 522.8 L810.3 525.1 L810.3 537.3 L808.5 539.3 L731.1 539.3 L738 531.2 L801.2 531.2 L801.2 529.2 L770.7 529.2 L766.9 526.6 L766.9 513.4 Z" fill="#fff"/>
<path d="M813.3 509.4 L862.1 509.4 L862.1 518 L859.8 518 L859.8 536.5 L856.7 539.3 L810.6 539.3 L812.4 531.2 L851.4 531.2 L851.4 518 L813.3 518 Z" fill="#fff"/>
<text x="735.9" y="553.1" font-size="3.6" fill="#cfcfcf" font-weight="normal" text-anchor="start" textLength="140.8" lengthAdjust="spacingAndGlyphs" >FOCUS ON GAMING PERIPHERALSV</text>
<rect x="674.6" y="783.3" width="67" height="108.3" rx="33.5" ry="36" fill="#2a2b2b"/>
<g clip-path="url(#cSens)">
<rect x="675" y="785" width="66" height="106" fill="#745252"/>
<circle cx="708.4" cy="824.3" r="33.8" fill="#0a0303"/>
<circle cx="708.4" cy="824.3" r="29.7" fill="url(#gLens)"/>
<circle cx="708.4" cy="824.3" r="12.6" fill="none" stroke="#6f6464" stroke-width="5.4"/>
<circle cx="708.4" cy="824.3" r="10" fill="none" stroke="#857a7a" stroke-width="0.8" opacity="0.6"/>
<circle cx="708.4" cy="824.3" r="9.9" fill="#641010"/>
<circle cx="708.4" cy="824.3" r="5.1" fill="#6e4c4c"/>
<rect x="694.6" y="881.8" width="26.6" height="4.6" rx="1.2" fill="#e03232"/>
</g>
<g clip-path="url(#cSlot)">
<rect x="811" y="850" width="61" height="40" fill="url(#gSlotT)"/>
<rect x="811" y="889" width="61" height="132.5" fill="#1d1d1d"/>
<rect x="812.6" y="889.4" width="57.8" height="131.4" fill="url(#gRecv)"/>
<rect x="811" y="1021" width="61" height="38" fill="url(#gSlotB)"/>
</g>
<line x1="324" y1="398.6" x2="412.4" y2="398.6" stroke="#d6252c" stroke-width="1.25"/>
<line x1="412.4" y1="398.6" x2="506" y2="398.6" stroke="#b22a2e" stroke-width="1.25"/>
<line x1="266.4" y1="418" x2="266.4" y2="1088" stroke="#d6252c" stroke-width="1.25"/>
<line x1="241" y1="578.7" x2="425.5" y2="578.7" stroke="#d6252c" stroke-width="1.25"/>
<line x1="425.5" y1="578.7" x2="498.3" y2="578.7" stroke="#b22a2e" stroke-width="1.25"/>
<line x1="518.6" y1="578.9" x2="543" y2="578.9" stroke="#b22a2e" stroke-width="1.25"/>
<line x1="240" y1="835.4" x2="413" y2="835.4" stroke="#d6252c" stroke-width="1.25"/>
<line x1="413" y1="835.4" x2="686" y2="835.4" stroke="#b22a2e" stroke-width="1.25"/>
<line x1="290.5" y1="1113.3" x2="423.5" y2="1113.3" stroke="#d6252c" stroke-width="1.25"/>
<line x1="423.5" y1="1113.3" x2="558.8" y2="1113.3" stroke="#b22a2e" stroke-width="1.25"/>
<line x1="1116.4" y1="398.6" x2="1005.3" y2="398.6" stroke="#d6252c" stroke-width="1.25"/>
<line x1="1005.3" y1="398.6" x2="905.5" y2="398.6" stroke="#b22a2e" stroke-width="1.25"/>
<line x1="1187.2" y1="418" x2="1187.2" y2="1092.7" stroke="#d6252c" stroke-width="1.25"/>
<line x1="1212" y1="904.5" x2="1029.5" y2="904.5" stroke="#d6252c" stroke-width="1.25"/>
<line x1="1029.5" y1="904.5" x2="844" y2="904.5" stroke="#b22a2e" stroke-width="1.25"/>
<line x1="1116.4" y1="1113.3" x2="995.5" y2="1113.3" stroke="#d6252c" stroke-width="1.25"/>
<line x1="995.5" y1="1113.3" x2="880.5" y2="1113.3" stroke="#b22a2e" stroke-width="1.25"/>
<circle cx="505.9" cy="399.4" r="7.8" fill="#ffe400"/>
<circle cx="905.5" cy="399.4" r="7.8" fill="#ffe400"/>
<circle cx="543.3" cy="578.1" r="7.8" fill="#ffe400"/>
<circle cx="686.1" cy="835.4" r="7.8" fill="#ffe400"/>
<circle cx="843.9" cy="904.5" r="7.8" fill="#ffe400"/>
<circle cx="558.8" cy="1113.3" r="7.8" fill="#ffe400"/>
<circle cx="880.5" cy="1113.4" r="7.8" fill="#ffe400"/>
<path d="M124.7 399.3 Q124 398 124.7 396.7 L133.3 378.9 Q134 377.6 135.5 377.6 L312.8 377.6 Q314.3 377.6 315 378.9 L323.6 396.7 Q324.3 398 323.6 399.3 L315 417.1 Q314.3 418.4 312.8 418.4 L135.5 418.4 Q134 418.4 133.3 417.1 Z" fill="#ffe600" stroke="#111" stroke-width="1.7" stroke-linejoin="round"/>
<text x="150.7" y="403.8" font-size="17.2" fill="#111" font-weight="normal" text-anchor="start" textLength="161.7" lengthAdjust="spacingAndGlyphs" >Resistant to moisture</text>
<path d="M69 581.2 Q68.5 579.8 69 578.3 L77 554.9 Q77.5 553.5 79 553.5 L230.7 553.5 Q232.2 553.5 232.7 554.9 L240.7 578.3 Q241.2 579.8 240.7 581.2 L232.7 604.6 Q232.2 606 230.7 606 L79 606 Q77.5 606 77 604.6 Z" fill="#ffe600" stroke="#111" stroke-width="1.7" stroke-linejoin="round"/>
<text x="84.3" y="573.7" font-size="21.3" fill="#111" font-weight="normal" text-anchor="start" textLength="122.6" lengthAdjust="spacingAndGlyphs" >Power Supply</text>
<text x="84.3" y="599.7" font-size="21.3" fill="#111" font-weight="normal" text-anchor="start" textLength="147.5" lengthAdjust="spacingAndGlyphs" >OFF / ON / Light</text>
<path d="M71.6 836.5 Q71 835.1 71.6 833.8 L79.9 816.4 Q80.5 815 82 815 L228.9 815 Q230.4 815 231 816.4 L239.3 833.8 Q239.9 835.1 239.3 836.5 L231 853.9 Q230.4 855.3 228.9 855.3 L82 855.3 Q80.5 855.3 79.9 853.9 Z" fill="#ffe600" stroke="#111" stroke-width="1.7" stroke-linejoin="round"/>
<text x="94.3" y="842.6" font-size="21.3" fill="#111" font-weight="normal" text-anchor="start" textLength="127.8" lengthAdjust="spacingAndGlyphs" >Optical sensor</text>
<path d="M118 1115.4 Q117.5 1114 118 1112.6 L126 1088.7 Q126.5 1087.3 128 1087.3 L280 1087.3 Q281.5 1087.3 282 1088.7 L290 1112.6 Q290.5 1114 290 1115.4 L282 1139.3 Q281.5 1140.7 280 1140.7 L128 1140.7 Q126.5 1140.7 126 1139.3 Z" fill="#ffe600" stroke="#111" stroke-width="1.7" stroke-linejoin="round"/>
<text x="139.1" y="1114.4" font-size="16.6" fill="#111" font-weight="normal" text-anchor="start" textLength="120.1" lengthAdjust="spacingAndGlyphs" >Low coefficient</text>
<text x="164.3" y="1131.6" font-size="16.6" fill="#111" font-weight="normal" text-anchor="start" textLength="73.9" lengthAdjust="spacingAndGlyphs" >of friction</text>
<path d="M1117 399.3 Q1116.4 397.9 1117 396.5 L1125 379.1 Q1125.6 377.7 1127.1 377.7 L1275.1 377.7 Q1276.6 377.7 1277.2 379.1 L1285.2 396.5 Q1285.8 397.9 1285.2 399.3 L1277.2 416.7 Q1276.6 418.1 1275.1 418.1 L1127.1 418.1 Q1125.6 418.1 1125 416.7 Z" fill="#ffe600" stroke="#111" stroke-width="1.7" stroke-linejoin="round"/>
<text x="1131.8" y="407" font-size="21.5" fill="#111" font-weight="normal" text-anchor="start" textLength="110.6" lengthAdjust="spacingAndGlyphs" >Anti-slip mat</text>
<path d="M1212.5 905.7 Q1211.9 904.3 1212.5 903 L1220.3 885.3 Q1220.9 883.9 1222.4 883.9 L1380 883.9 Q1381.5 883.9 1382.1 885.3 L1389.9 903 Q1390.5 904.3 1389.9 905.7 L1382.1 923.4 Q1381.5 924.8 1380 924.8 L1222.4 924.8 Q1220.9 924.8 1220.3 923.4 Z" fill="#ffe600" stroke="#111" stroke-width="1.7" stroke-linejoin="round"/>
<text x="1225.4" y="911.6" font-size="21.5" fill="#111" font-weight="normal" text-anchor="start" textLength="153.4" lengthAdjust="spacingAndGlyphs" >Wireless receiver</text>
<path d="M1117 1114.1 Q1116.4 1112.7 1117 1111.3 L1125 1094.1 Q1125.6 1092.7 1127.1 1092.7 L1275.1 1092.7 Q1276.6 1092.7 1277.2 1094.1 L1285.2 1111.3 Q1285.8 1112.7 1285.2 1114.1 L1277.2 1131.3 Q1276.6 1132.7 1275.1 1132.7 L1127.1 1132.7 Q1125.6 1132.7 1125 1131.3 Z" fill="#ffe600" stroke="#111" stroke-width="1.7" stroke-linejoin="round"/>
<text x="1144.1" y="1119.5" font-size="21.5" fill="#111" font-weight="normal" text-anchor="start" textLength="86.3" lengthAdjust="spacingAndGlyphs" >Not sticky</text>
</svg>
</body></html>
